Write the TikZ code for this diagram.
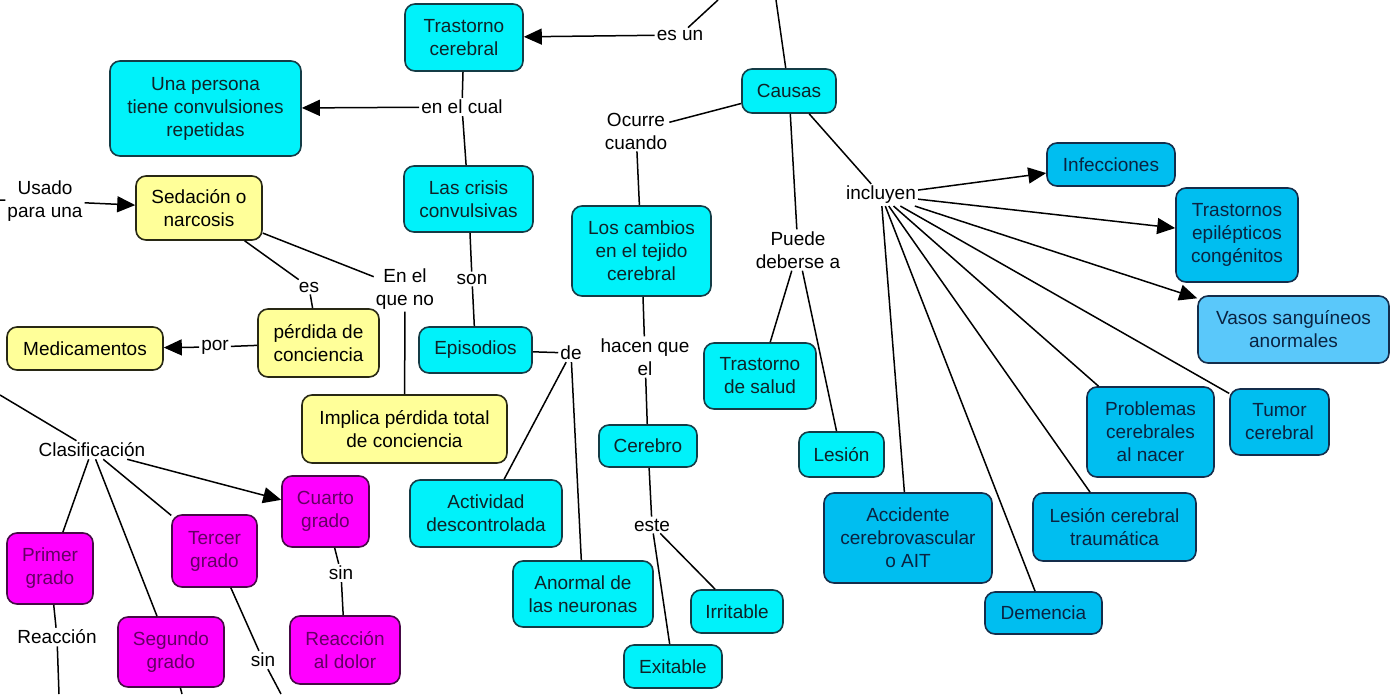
\documentclass[tikz,border=0pt]{standalone}
\usepackage{fontspec}
\setmainfont{Liberation Sans}
\usetikzlibrary{arrows.meta}
\definecolor{cyanf}{RGB}{0,242,250}
\definecolor{cyanb}{RGB}{20,60,70}
\definecolor{cyant}{RGB}{15,35,40}
\definecolor{bluef}{RGB}{0,190,240}
\definecolor{vasof}{RGB}{90,200,250}
\definecolor{blueb}{RGB}{20,45,75}
\definecolor{bluet}{RGB}{10,35,65}
\definecolor{yelf}{RGB}{255,255,153}
\definecolor{yelb}{RGB}{40,40,20}
\definecolor{magf}{RGB}{255,0,255}
\definecolor{magb}{RGB}{70,10,70}
\definecolor{magt}{RGB}{100,0,100}
\begin{document}
\begin{tikzpicture}[x=1pt,y=-1pt,
  font=\fontsize{19}{23}\selectfont,
  box/.style={draw, rounded corners=10pt, line width=1.6pt, align=center, inner sep=2pt},
  cb/.style={box, fill=cyanf, draw=cyanb, text=cyant},
  bb/.style={box, fill=bluef, draw=blueb, text=bluet},
  vb/.style={box, fill=vasof, draw=blueb, text=bluet},
  yb/.style={box, fill=yelf, draw=yelb, text=black},
  mb/.style={box, fill=magf, draw=magb, text=magt},
  lab/.style={align=center, inner sep=2pt, text=black},
  ln/.style={line width=1.5pt, draw=black},
  arr/.style={ln, -{Triangle[length=18pt,width=16pt]}},
]
\fill[white] (0,0) rectangle (1398,694);
\useasboundingbox (0,0) rectangle (1398,694);

% cyan concepts
\node[cb, minimum width=118, minimum height=67] (tc) at (464,37.5) {Trastorno\\cerebral};
\node[cb, minimum width=191, minimum height=95] (una) at (205.5,108.5) {Una persona\\tiene convulsiones\\repetidas};
\node[cb, minimum width=129, minimum height=66] (crisis) at (468.5,199) {Las crisis\\convulsivas};
\node[cb, minimum width=94, minimum height=44] (causas) at (789,91) {Causas};
\node[cb, minimum width=139, minimum height=90] (cambios) at (641.5,251) {Los cambios\\en el tejido\\cerebral};
\node[cb, minimum width=113, minimum height=46] (episodios) at (475.5,350) {Episodios};
\node[cb, minimum width=152, minimum height=67] (actividad) at (486,513.5) {Actividad\\descontrolada};
\node[cb, minimum width=140, minimum height=66] (anormal) at (583,594) {Anormal de\\las neuronas};
\node[cb, minimum width=98, minimum height=42] (cerebro) at (648,446) {Cerebro};
\node[cb, minimum width=92, minimum height=43] (irritable) at (737,611.5) {Irritable};
\node[cb, minimum width=98, minimum height=43] (exitable) at (673,666.5) {Exitable};
\node[cb, minimum width=112, minimum height=66] (trsalud) at (760,376) {Trastorno\\de salud};
\node[cb, minimum width=85, minimum height=45] (lesion) at (841.5,454.5) {Lesión};

% blue concepts
\node[bb, minimum width=128, minimum height=43] (infec) at (1111,164.5) {Infecciones};
\node[bb, minimum width=122, minimum height=94] (trep) at (1237,235) {Trastornos\\epilépticos\\congénitos};
\node[vb, minimum width=191, minimum height=67] (vasos) at (1293.5,329.5) {Vasos sanguíneos\\anormales};
\node[bb, minimum width=127, minimum height=90] (probl) at (1150.5,432) {Problemas\\cerebrales\\al nacer};
\node[bb, minimum width=99, minimum height=66] (tumor) at (1279.5,422) {Tumor\\cerebral};
\node[bb, minimum width=163, minimum height=68] (lestr) at (1114.5,527) {Lesión cerebral\\traumática};
\node[bb, minimum width=168, minimum height=90] (accid) at (908,538) {Accidente\\cerebrovascular\\o AIT};
\node[bb, minimum width=117, minimum height=42] (demen) at (1043.5,613) {Demencia};

% yellow concepts
\node[yb, minimum width=126, minimum height=64] (sedac) at (199,208) {Sedación o\\narcosis};
\node[yb, minimum width=121, minimum height=68] (perd) at (318.5,343) {pérdida de\\conciencia};
\node[yb, minimum width=156, minimum height=43] (medic) at (85,348.5) {Medicamentos};
\node[yb, minimum width=205, minimum height=68] (implica) at (404.5,429) {Implica pérdida total\\de conciencia};

% magenta concepts
\node[mb, minimum width=86, minimum height=71] (primer) at (50,568.5) {Primer\\grado};
\node[mb, minimum width=106, minimum height=70] (segundo) at (171,652) {Segundo\\grado};
\node[mb, minimum width=85, minimum height=72] (tercer) at (214.5,551) {Tercer\\grado};
\node[mb, minimum width=87, minimum height=71] (cuarto) at (325.5,511.5) {Cuarto\\grado};
\node[mb, minimum width=110, minimum height=68] (reacdol) at (345,650) {Reacción\\al dolor};

% linking phrases
\node[lab] (esun) at (680,35) {es un};
\node[lab] (encual) at (462,107) {en el cual};
\node[lab] (son) at (472,279) {son};
\node[lab] (de) at (571,353) {de};
\node[lab] (ocurre) at (636,131) {Ocurre\\cuando};
\node[lab] (hacen) at (645,357) {hacen que\\el};
\node[lab] (puede) at (798,250) {Puede\\deberse a};
\node[lab] (incl) at (881,195) {incluyen};
\node[lab] (este) at (652,525) {este};
\node[lab] (es) at (309,287) {es};
\node[lab] (enelque) at (405,289) {En el\\que no};
\node[lab] (por) at (215,347) {por};
\node[lab] (usado) at (45,201) {Usado\\para una};
\node[lab] (clasif) at (92,450) {Clasificación};
\node[lab] (reacc) at (57,637) {Reacción};
\node[lab] (sin1) at (341,573) {sin};
\node[lab] (sin2) at (263,660) {sin};

% free ends at the picture's edges
\coordinate (top1) at (718,0);
\coordinate (top2) at (776,0);
\coordinate (L1) at (0,200);
\coordinate (L2) at (0,395);
\coordinate (B1) at (59,694);
\coordinate (B2) at (281,694);
\coordinate (B3) at (182,694);

% connectors
\draw[arr] (esun) -- (tc);
\draw[ln] (esun) -- (top1);
\draw[ln] (causas) -- (top2);
\draw[ln] (tc) -- (encual);
\draw[ln] (encual) -- (crisis);
\draw[arr] (encual) -- (una);
\draw[ln] (crisis) -- (son);
\draw[ln] (son) -- (episodios);
\draw[ln] (episodios) -- (de);
\draw[ln] (de) -- (actividad);
\draw[ln] (de) -- (anormal);
\draw[ln] (causas) -- (ocurre);
\draw[ln] (ocurre) -- (cambios);
\draw[ln] (cambios) -- (hacen);
\draw[ln] (hacen) -- (cerebro);
\draw[ln] (cerebro) -- (este);
\draw[ln] (este) -- (exitable);
\draw[ln] (este) -- (irritable);
\draw[ln] (causas) -- (puede);
\draw[ln] (puede) -- (trsalud);
\draw[ln] (puede) -- (lesion);
\draw[ln] (causas) -- (incl);
\draw[arr] (incl) -- (infec);
\draw[arr] (incl) -- (trep);
\draw[arr] (incl) -- (vasos);
\draw[ln] (incl) -- (tumor);
\draw[ln] (incl) -- (probl);
\draw[ln] (incl) -- (lestr);
\draw[ln] (incl) -- (demen);
\draw[ln] (incl) -- (accid);
\draw[ln] (L1) -- (usado);
\draw[arr] (usado) -- (sedac);
\draw[ln] (sedac) -- (es);
\draw[ln] (es) -- (perd);
\draw[ln] (sedac) -- (enelque);
\draw[ln] (enelque) -- (implica);
\draw[ln] (perd) -- (por);
\draw[arr] (por) -- (medic);
\draw[ln] (L2) -- (clasif);
\draw[ln] (clasif) -- (primer);
\draw[ln] (clasif) -- (segundo);
\draw[ln] (clasif) -- (tercer);
\draw[arr] (clasif) -- (cuarto);
\draw[ln] (primer) -- (reacc);
\draw[ln] (reacc) -- (B1);
\draw[ln] (segundo) -- (B3);
\draw[ln] (tercer) -- (sin2);
\draw[ln] (sin2) -- (B2);
\draw[ln] (cuarto) -- (sin1);
\draw[ln] (sin1) -- (reacdol);
\end{tikzpicture}
\end{document}
